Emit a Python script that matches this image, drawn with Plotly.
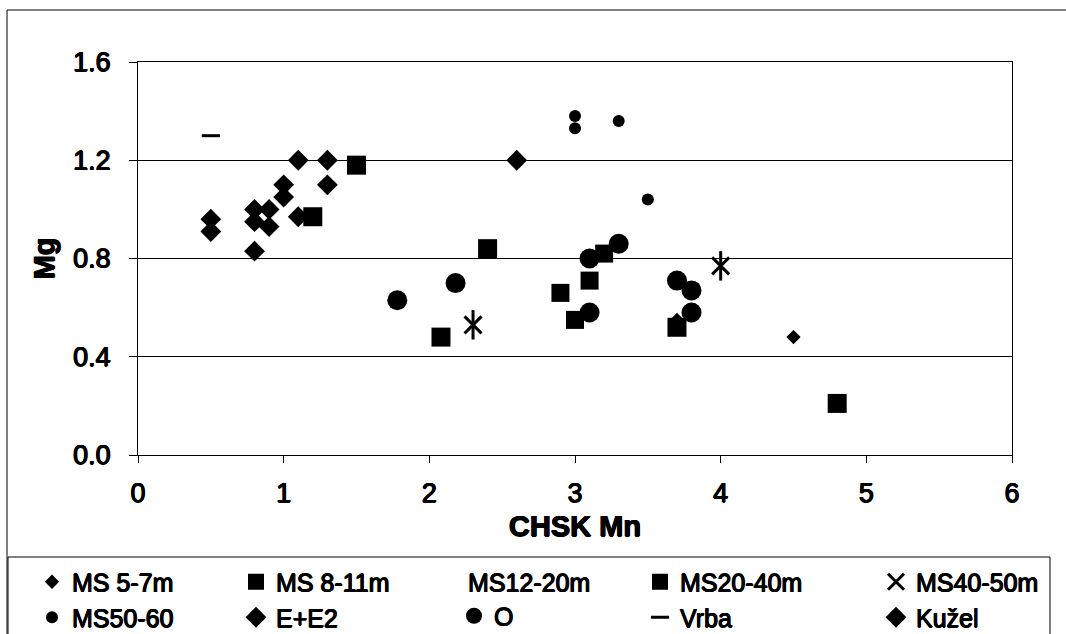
import plotly.graph_objects as go

# ---- data ----
ms57_x = [3.7, 4.5]
ms57_y = [0.55, 0.48]
ms811_x = [1.5, 1.2, 2.4, 2.08, 3.7, 4.8]
ms811_y = [1.18, 0.97, 0.84, 0.48, 0.52, 0.21]
ms1220_x = [None]
ms1220_y = [None]
ms2040_x = [2.9, 3.0, 3.1, 3.2]
ms2040_y = [0.66, 0.55, 0.71, 0.82]
ms4050_x = [2.3, 4.0]
ms4050_y = [0.53, 0.77]
ms5060_x = [3.0, 3.0, 3.3, 3.5]
ms5060_y = [1.38, 1.33, 1.36, 1.04]
ee2_x = [0.5, 0.5, 0.8, 0.8, 0.8, 0.9, 0.9, 1.0, 1.0, 1.1, 1.1, 1.3, 1.3]
ee2_y = [0.96, 0.91, 1.0, 0.95, 0.83, 1.0, 0.93, 1.1, 1.05, 1.2, 0.97, 1.2, 1.1]
o_x = [1.78, 2.18, 3.1, 3.1, 3.3, 3.7, 3.8, 3.8]
o_y = [0.63, 0.70, 0.80, 0.58, 0.86, 0.71, 0.67, 0.58]
vrba_x = [0.5]
vrba_y = [1.3]
kuzel_x = [2.6]
kuzel_y = [1.2]

x_ticks = [0, 1, 2, 3, 4, 5, 6]
y_ticks = [0.0, 0.4, 0.8, 1.2, 1.6]

W, H = 1066, 634
L, R, T, B = 138, 54, 62, 179
PW, PH = W - L - R, H - T - B


def px(x):
    return (x - L) / PW


def py(y):
    return (H - B - y) / PH


FONT = "Liberation Sans, Arial, sans-serif"
BLACK = "#000000"
# slight thickening to imitate the heavy, scanned print look
THICK = "0.6px 0 0 #000, -0.6px 0 0 #000, 0 0.5px 0 #000, 0 -0.5px 0 #000"


def tfont(size):
    return dict(family=FONT, size=size, color=BLACK, shadow=THICK)


fig = go.Figure()


def add(name, xs, ys, symbol, size, legend, rank, color=BLACK, lw=0,
        showlegend=True, group=None):
    fig.add_trace(go.Scatter(
        x=xs, y=ys, mode="markers", name=name, legend=legend, legendrank=rank,
        showlegend=showlegend, legendgroup=group or name,
        marker=dict(symbol=symbol, size=size, color=color,
                    line=dict(width=lw, color=BLACK)),
        hoverinfo="x+y+name",
    ))


add("MS 5-7m", ms57_x, ms57_y, "diamond", 11, "legend", 1)
add("MS 8-11m", ms811_x, ms811_y, "square", 19, "legend2", 1)
add("MS12-20m", ms1220_x, ms1220_y, "circle", 10, "legend3", 1, color="rgba(0,0,0,0)")
add("MS20-40m", ms2040_x, ms2040_y, "square", 18, "legend5", 1)
add("MS40-50m", ms4050_x, ms4050_y, "x-thin-open", 17, "legend6", 1, lw=3)
add("MS40-50m", ms4050_x, ms4050_y, "line-ns-open", 21, "legend6", 3, lw=3,
    showlegend=False, group="MS40-50m")
add("MS50-60", ms5060_x, ms5060_y, "circle", 12, "legend", 2)
add("E+E2", ee2_x, ee2_y, "diamond", 16, "legend2", 2)
add("O", o_x, o_y, "circle", 20, "legend4", 2)
add("Vrba", vrba_x, vrba_y, "line-ew-open", 13, "legend5", 2, lw=3)
add("Kužel", kuzel_x, kuzel_y, "diamond", 16, "legend6", 2)

LEG_FONT = 25
ROW1, ROW2 = 582, 616


def leg(x_marker, top):
    return dict(
        orientation="v", xanchor="left", yanchor="top",
        x=px(x_marker - 19), y=py(top),
        font=tfont(LEG_FONT),
        bgcolor="rgba(0,0,0,0)", borderwidth=0,
        itemwidth=30, tracegroupgap=0, traceorder="normal",
        itemsizing="trace", itemclick=False, itemdoubleclick=False,
    )


fig.update_layout(
    width=W, height=H,
    margin=dict(l=L, r=R, t=T, b=B, pad=0, autoexpand=False),
    paper_bgcolor="white", plot_bgcolor="white",
    font=dict(family=FONT, color=BLACK),
    xaxis=dict(
        range=[0, 6], tickvals=x_ticks, ticktext=[str(v) for v in x_ticks],
        showgrid=False, zeroline=False,
        showline=True, linecolor=BLACK, linewidth=1, mirror=True,
        ticks="outside", ticklen=7, tickcolor=BLACK, tickwidth=1,
        ticklabelstandoff=7,
        tickfont=tfont(27),
        title=dict(text="<b>CHSK Mn</b>", font=tfont(29), standoff=8),
    ),
    yaxis=dict(
        range=[0, 1.6], tickvals=y_ticks, ticktext=[f"{v:.1f}" for v in y_ticks],
        showgrid=True, gridcolor=BLACK, gridwidth=1, zeroline=False,
        showline=True, linecolor=BLACK, linewidth=1, mirror=True,
        ticks="outside", ticklen=8, tickcolor=BLACK, tickwidth=1,
        ticklabelstandoff=13,
        tickfont=tfont(27),
        title=dict(text="<b>Mg</b>", font=tfont(29), standoff=9),
    ),
    legend=leg(51, ROW1 - 23),
    legend2=leg(255, ROW1 - 23),
    legend3=leg(447, ROW1 - 23),
    legend4=leg(473, ROW2 - 23),
    legend5=leg(659, ROW1 - 23),
    legend6=leg(895, ROW1 - 23),
    showlegend=True,
    shapes=[
        # outer chart border
        dict(type="rect", xref="paper", yref="paper",
             x0=px(7), x1=px(1075), y0=py(645), y1=py(10),
             line=dict(color=BLACK, width=1), fillcolor="rgba(0,0,0,0)", layer="below"),
        # legend box
        dict(type="rect", xref="paper", yref="paper",
             x0=px(8), x1=px(1050), y0=py(645), y1=py(557),
             line=dict(color=BLACK, width=1), fillcolor="rgba(0,0,0,0)", layer="below"),
    ],
)

fig.write_html("out.html")
